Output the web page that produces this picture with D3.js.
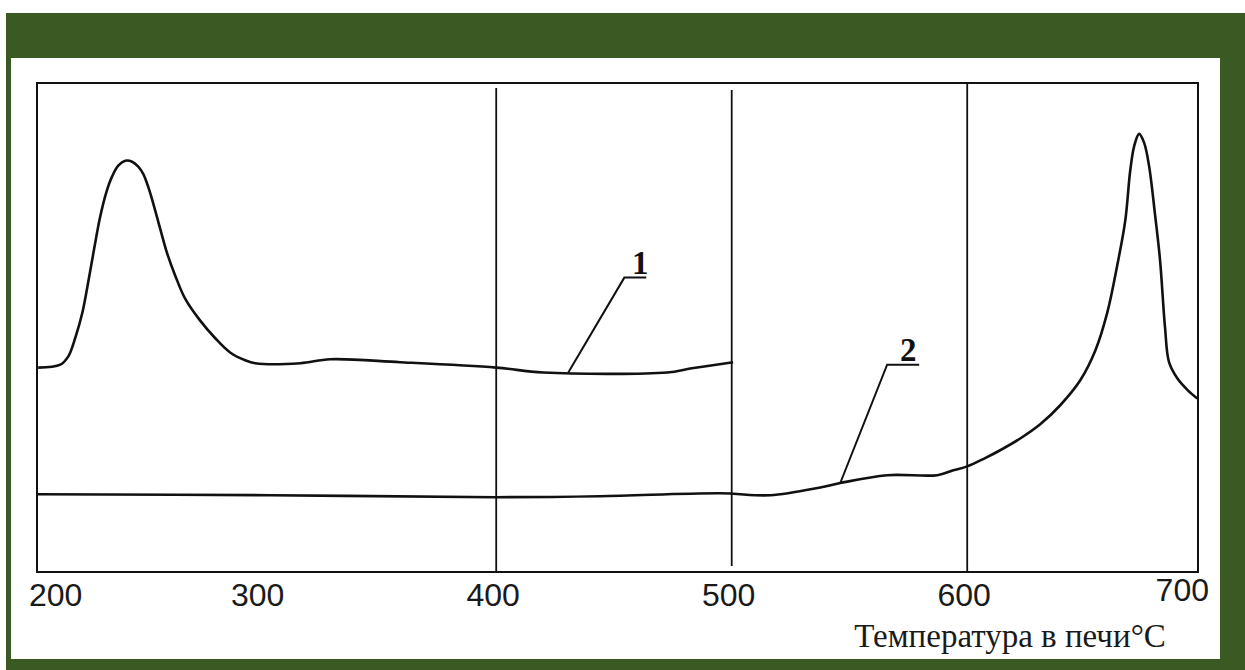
<!DOCTYPE html>
<html>
<head>
<meta charset="utf-8">
<script src="https://cdn.jsdelivr.net/npm/d3@7/dist/d3.min.js"></script>
<style>
  html, body { margin: 0; padding: 0; background: #ffffff; }
  svg { display: block; }
</style>
</head>
<body>
<svg id="chart" width="1245" height="670"></svg>
<script>
// ---- data ----
const tickValues = [200, 300, 400, 500, 600, 700];
const gridTemps = [400, 500, 600];
const axisTitle = "Температура в печи°C";

// curve 1 (temperature, relative value 0..100)
const curve1T = [205.5, 214.9, 218.3, 221.2, 224.2, 226.8, 229.3, 231.8, 234.4, 236.9, 239.5, 242.5, 245.4, 248.0, 250.1, 252.2, 254.4, 257.3, 260.3, 263.7, 267.9, 274.3, 280.7, 287.0, 293.4, 297.7, 316.8, 329.5, 359.2, 400.0, 420.0, 472.6, 482.4, 500.6];
const curve1V = [41.8, 42.4, 44.1, 47.8, 52.9, 59.4, 66.2, 72.6, 77.6, 80.9, 83.1, 84.1, 83.9, 82.9, 81.4, 78.8, 75.3, 70.2, 65.1, 60.6, 55.9, 51.4, 47.8, 44.9, 43.3, 42.7, 42.7, 43.5, 42.9, 41.8, 40.8, 40.8, 41.6, 42.9];

// curve 2
const curve2T = [205.1, 304.0, 400.0, 444.0, 495.1, 516.3, 537.6, 546.1, 566.0, 587.3, 594.1, 600.0, 607.6, 614.0, 622.5, 631.0, 639.5, 648.0, 654.4, 659.5, 663.7, 667.1, 669.2, 670.9, 673.0, 675.1, 677.2, 679.8, 681.9, 684.0, 685.7, 689.2, 693.8, 697.7];
const curve2V = [15.9, 15.7, 15.3, 15.5, 16.1, 15.7, 17.3, 18.2, 19.8, 19.8, 20.8, 21.6, 23.3, 24.9, 27.3, 30.2, 34.1, 39.2, 45.3, 53.1, 62.7, 71.8, 82.0, 87.1, 89.6, 87.8, 83.1, 72.9, 63.7, 50.0, 42.9, 39.6, 37.1, 35.5];

// callouts
const callout1 = { label: "1", tipT: 430.6, tipV: 40.8, elbowT: 454.4, elbowV: 60.2, endT: 463.7 };
const callout2 = { label: "2", tipT: 546.1, tipV: 18.2, elbowT: 566.0, elbowV: 42.4, endT: 579.6 };

// ---- layout ----
const svg = d3.select("#chart");
const W = 1245, H = 670;
const green = "#3b5a23";

svg.append("rect").attr("x", 0).attr("y", 0).attr("width", W).attr("height", H).attr("fill", "#ffffff");
svg.append("rect").attr("x", 6).attr("y", 13).attr("width", W - 6).attr("height", H - 13).attr("fill", green);
svg.append("rect").attr("x", 11).attr("y", 58).attr("width", 1209).attr("height", 601).attr("fill", "#ffffff");

const box = { left: 37, right: 1198, top: 83, bottom: 572 };
const x = d3.scaleLinear().domain([205, 698]).range([box.left, box.right]);
const y = d3.scaleLinear().domain([0, 100]).range([box.bottom, box.top]);

const ink = "#111111";

svg.append("rect")
  .attr("x", box.left).attr("y", box.top)
  .attr("width", box.right - box.left).attr("height", box.bottom - box.top)
  .attr("fill", "none").attr("stroke", ink).attr("stroke-width", 2);

const gridTop = { 400: 88, 500: 90, 600: 83 };
const gridBottom = { 400: 572, 500: 566, 600: 572 };
svg.append("g").selectAll("line").data(gridTemps).join("line")
  .attr("x1", d => x(d)).attr("x2", d => x(d))
  .attr("y1", d => gridTop[d]).attr("y2", d => gridBottom[d])
  .attr("stroke", ink).attr("stroke-width", 1.8);

// tick labels
const last = tickValues.length - 1;
svg.append("g").selectAll("text").data(tickValues).join("text")
  .attr("x", (d, i) => i === 0 ? 29 : (i === last ? 1209 : x(d) - 3))
  .attr("y", (d, i) => i === last ? 601 : 606)
  .attr("text-anchor", (d, i) => i === 0 ? "start" : (i === last ? "end" : "middle"))
  .attr("font-family", "'Liberation Sans', Arial, sans-serif")
  .attr("font-size", 32)
  .attr("fill", "#1a1a1a")
  .text(d => d);

// axis title
svg.append("text")
  .attr("x", 1010).attr("y", 647)
  .attr("text-anchor", "middle")
  .attr("font-family", "'Liberation Serif', 'Times New Roman', serif")
  .attr("font-size", 33)
  .attr("fill", "#1a1a1a")
  .text(axisTitle);

// curves
const line = d3.line().x(d => x(d[0])).y(d => y(d[1])).curve(d3.curveCatmullRom.alpha(0.5));
const c1 = curve1T.map((t, i) => [t, curve1V[i]]);
const c2 = curve2T.map((t, i) => [t, curve2V[i]]);
svg.append("path").attr("d", line(c1)).attr("fill", "none").attr("stroke", ink).attr("stroke-width", 2.6).attr("stroke-linejoin", "round");
svg.append("path").attr("d", line(c2)).attr("fill", "none").attr("stroke", ink).attr("stroke-width", 2.6).attr("stroke-linejoin", "round");

// callouts
[callout1, callout2].forEach(c => {
  svg.append("polyline")
    .attr("points", [[x(c.tipT), y(c.tipV)], [x(c.elbowT), y(c.elbowV)], [x(c.endT), y(c.elbowV)]].map(p => p.join(",")).join(" "))
    .attr("fill", "none").attr("stroke", ink).attr("stroke-width", 2);
  svg.append("text")
    .attr("x", (x(c.elbowT) + x(c.endT)) / 2 + 5)
    .attr("y", y(c.elbowV) - 4)
    .attr("text-anchor", "middle")
    .attr("font-family", "'Liberation Serif', 'Times New Roman', serif")
    .attr("font-weight", "bold")
    .attr("font-size", 33)
    .attr("fill", ink)
    .text(c.label);
});
</script>
</body>
</html>
